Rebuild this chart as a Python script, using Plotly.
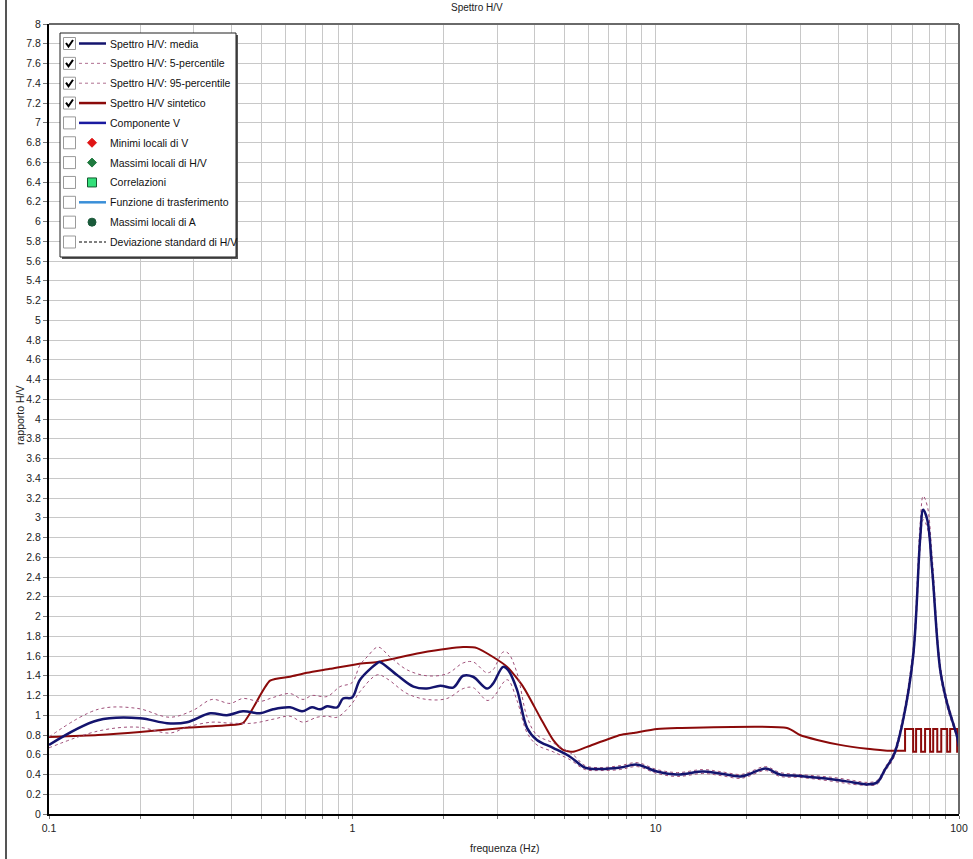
import plotly.graph_objects as go

# ---------------- data ----------------
# Spettro H/V: media
media_f = [0.1, 0.1451, 0.1995, 0.245, 0.285, 0.340, 0.386, 0.436, 0.496, 0.548,
           0.623, 0.683, 0.736, 0.783, 0.826, 0.891, 0.932, 0.998, 1.06, 1.21,
           1.23, 1.40, 1.59, 1.76, 1.95, 2.15, 2.32, 2.50, 2.78, 2.91,
           3.14, 3.26, 3.49, 3.77, 4.06, 4.59, 5.22, 5.85, 6.56, 7.64,
           8.69, 10.1, 11.8, 14.3, 16.3, 19.0, 20.2, 23.0, 25.7, 29.9,
           38.5, 44.8, 49.8, 53.7, 57.0, 61.0, 65.4, 70.6, 74.5, 76.2,
           78.6, 81.6, 86.7, 91.4, 98.6, 100.0]
media_v = [0.70, 0.95, 0.97, 0.92, 0.93, 1.02, 1.00, 1.04, 1.02, 1.06,
           1.08, 1.04, 1.08, 1.06, 1.09, 1.08, 1.17, 1.18, 1.36, 1.53,
           1.54, 1.41, 1.29, 1.27, 1.30, 1.28, 1.40, 1.39, 1.27, 1.32,
           1.49, 1.46, 1.26, 0.87, 0.75, 0.67, 0.58, 0.47, 0.455, 0.47,
           0.50, 0.43, 0.40, 0.43, 0.41, 0.38, 0.40, 0.46, 0.40, 0.385,
           0.35, 0.32, 0.30, 0.32, 0.45, 0.60, 0.95, 1.60, 2.80, 3.08,
           2.98, 2.47, 1.46, 1.12, 0.78, 0.68]

# Spettro H/V: 95-percentile
p95_f = [0.1, 0.1451, 0.195, 0.2506, 0.2985, 0.3445, 0.3953, 0.436, 0.496, 0.548,
         0.623, 0.6877, 0.736, 0.826, 0.911, 0.998, 1.06, 1.118, 1.215, 1.332,
         1.515, 1.76, 2.053, 2.32, 2.50, 2.78, 2.91, 3.14, 3.26, 3.49,
         3.77, 4.06, 4.59, 5.34, 5.85, 6.56, 7.64, 8.69, 10.1, 11.8,
         14.3, 16.3, 19.0, 20.2, 23.0, 25.7, 29.9, 38.5, 44.8, 49.8,
         53.7, 57.0, 61.0, 65.4, 70.6, 74.5, 76.2, 78.6, 81.6, 86.7,
         91.4, 98.6, 100.0]
p95_v = [0.78, 1.06, 1.07, 0.98, 1.05, 1.16, 1.12, 1.17, 1.14, 1.18,
         1.22, 1.16, 1.20, 1.19, 1.29, 1.33, 1.51, 1.59, 1.69, 1.59,
         1.46, 1.40, 1.42, 1.53, 1.54, 1.43, 1.46, 1.64, 1.63, 1.43,
         0.98, 0.80, 0.72, 0.60, 0.49, 0.47, 0.49, 0.52, 0.45, 0.42,
         0.45, 0.43, 0.40, 0.42, 0.48, 0.42, 0.40, 0.37, 0.34, 0.32,
         0.34, 0.47, 0.63, 1.00, 1.68, 2.95, 3.22, 3.12, 2.60, 1.52,
         1.16, 0.80, 0.70]

# Spettro H/V: 5-percentile
p5_f = [0.1, 0.1451, 0.195, 0.2506, 0.285, 0.3445, 0.3953, 0.4707, 0.548, 0.623,
        0.6877, 0.765, 0.826, 0.891, 0.998, 1.06, 1.21, 1.301, 1.515, 1.76,
        2.053, 2.32, 2.50, 2.78, 2.91, 3.24, 3.49, 3.77, 4.06, 4.59,
        5.22, 5.85, 6.56, 7.64, 8.69, 10.1, 11.8, 14.3, 16.3, 19.0,
        20.2, 23.0, 25.7, 29.9, 38.5, 44.8, 49.8, 53.7, 57.0, 61.0,
        65.4, 70.6, 74.5, 76.2, 78.6, 81.6, 86.7, 91.4, 98.6, 100.0]
p5_v = [0.67, 0.84, 0.88, 0.82, 0.88, 0.93, 0.92, 0.92, 0.96, 0.99,
        0.93, 0.98, 0.99, 0.98, 1.12, 1.24, 1.41, 1.37, 1.22, 1.16,
        1.17, 1.27, 1.28, 1.15, 1.18, 1.36, 1.15, 0.82, 0.70, 0.63,
        0.55, 0.45, 0.44, 0.45, 0.48, 0.41, 0.38, 0.41, 0.39, 0.36,
        0.38, 0.44, 0.38, 0.37, 0.33, 0.30, 0.29, 0.30, 0.43, 0.57,
        0.92, 1.55, 2.70, 2.98, 2.90, 2.40, 1.42, 1.08, 0.76, 0.66]

# Spettro H/V sintetico (smooth part followed by the stepped high-frequency part)
sint_f = [0.1, 0.1451, 0.1995, 0.2766, 0.386, 0.436, 0.5355, 0.623, 0.709, 0.844,
          1.044, 1.21, 1.672, 2.32, 2.577, 2.91, 3.24, 3.655, 4.158, 4.59,
          4.95, 5.34, 5.94, 7.64, 8.42, 10.1, 11.8, 27.1, 29.9, 34.1,
          40.5, 49.8, 57.9,
          66.4, 66.4, 70.6, 70.6, 72.2, 72.2, 75.0, 75.0, 77.3, 77.3,
          80.3, 80.3, 82.2, 82.2, 84.8, 84.8, 87.4, 87.4, 91.4, 91.4,
          93.5, 93.5, 98.6, 98.6, 100.0]
sint_v = [0.78, 0.80, 0.83, 0.87, 0.90, 0.92, 1.35, 1.39, 1.43, 1.47,
          1.52, 1.54, 1.63, 1.69, 1.68, 1.59, 1.49, 1.29, 0.98, 0.75,
          0.65, 0.63, 0.68, 0.80, 0.82, 0.86, 0.87, 0.87, 0.80, 0.75,
          0.70, 0.66, 0.64,
          0.64, 0.86, 0.86, 0.63, 0.63, 0.86, 0.86, 0.63, 0.63, 0.86,
          0.86, 0.63, 0.63, 0.86, 0.86, 0.63, 0.63, 0.86, 0.86, 0.63,
          0.63, 0.86, 0.86, 0.63, 0.63]
SINT_SMOOTH_END = 33  # index where the stepped section begins

# axis ticks
x_tickvals = [0.1, 0.2, 0.3, 0.4, 0.5, 0.6, 0.7, 0.8, 0.9,
              1, 2, 3, 4, 5, 6, 7, 8, 9,
              10, 20, 30, 40, 50, 60, 70, 80, 90, 100]
x_ticklabels = {0.1: "0.1", 1: "1", 10: "10", 100: "100"}
y_tickvals = [round(i * 0.2, 1) for i in range(41)]

# legend entries: (label, checked, kind, colour)
legend_items = [
    ("Spettro H/V: media", True, "line", "#14146e"),
    ("Spettro H/V: 5-percentile", True, "dot", "#b07090"),
    ("Spettro H/V: 95-percentile", True, "dot", "#b07090"),
    ("Spettro H/V sintetico", True, "line", "#8b0a0a"),
    ("Componente V", False, "line", "#1a1aa0"),
    ("Minimi locali di V", False, "diamond", "#e01414"),
    ("Massimi locali di H/V", False, "diamond", "#1f7a3f"),
    ("Correlazioni", False, "square", "#33e07a"),
    ("Funzione di trasferimento", False, "line", "#3a8fd8"),
    ("Massimi locali di A", False, "circle", "#1a5a3a"),
    ("Deviazione standard di H/V", False, "dash", "#000000"),
]

FONT = "Liberation Sans, Arial, sans-serif"

# ---------------- figure ----------------
W, H = 973, 859
L, R, T, B = 49, 959, 24, 814


def pxx(x):
    return (x - L) / (R - L)


def pxy(y):
    return (B - y) / (B - T)


fig = go.Figure()

SINT_COLOR = "#8b0a0a"
fig.add_trace(go.Scatter(x=sint_f[:SINT_SMOOTH_END], y=sint_v[:SINT_SMOOTH_END],
                         mode="lines", line_shape="spline",
                         line=dict(color=SINT_COLOR, width=2, smoothing=0.6)))
fig.add_trace(go.Scatter(x=sint_f[SINT_SMOOTH_END - 1:], y=sint_v[SINT_SMOOTH_END - 1:],
                         mode="lines", line=dict(color=SINT_COLOR, width=2)))
fig.add_trace(go.Scatter(x=p95_f, y=p95_v, mode="lines", line_shape="spline",
                         line=dict(color="#a0507a", width=1, dash="dot")))
fig.add_trace(go.Scatter(x=p5_f, y=p5_v, mode="lines", line_shape="spline",
                         line=dict(color="#a0507a", width=1, dash="dot")))
fig.add_trace(go.Scatter(x=media_f, y=media_v, mode="lines", line_shape="spline",
                         line=dict(color="#14146e", width=2.5)))

shapes = []
annotations = []

# plot frame: top and right border in grey
shapes.append(dict(type="line", xref="paper", yref="paper", x0=0, x1=1, y0=1, y1=1,
                   line=dict(color="#6a6a6a", width=2), layer="above"))
shapes.append(dict(type="line", xref="paper", yref="paper", x0=1, x1=1, y0=0, y1=1,
                   line=dict(color="#6a6a6a", width=2), layer="above"))
# outer window edge on the left
shapes.append(dict(type="line", xref="paper", yref="paper", x0=pxx(6), x1=pxx(6),
                   y0=pxy(0), y1=pxy(H), line=dict(color="#555555", width=2),
                   layer="above"))

# legend box with shadow
bx0, by0, bx1, by1 = 60, 33, 236, 257
shapes.append(dict(type="rect", xref="paper", yref="paper",
                   x0=pxx(bx0 + 2), x1=pxx(bx1 + 2), y0=pxy(by0 + 2), y1=pxy(by1 + 2),
                   fillcolor="#555555", line=dict(width=0), layer="above"))
shapes.append(dict(type="rect", xref="paper", yref="paper",
                   x0=pxx(bx0), x1=pxx(bx1), y0=pxy(by0), y1=pxy(by1),
                   fillcolor="white", line=dict(color="#202020", width=1), layer="above"))

row0, step = 43.5, 19.85
for i, (label, checked, kind, col) in enumerate(legend_items):
    yc = row0 + step * i
    # checkbox
    shapes.append(dict(type="rect", xref="paper", yref="paper",
                       x0=pxx(63.5), x1=pxx(75.5), y0=pxy(yc - 6), y1=pxy(yc + 6),
                       fillcolor="white", line=dict(color="#9a9a9a", width=1),
                       layer="above"))
    if checked:
        path = "M {},{} L {},{} L {},{}".format(
            pxx(66), pxy(yc - 0.5), pxx(68.5), pxy(yc + 3), pxx(73), pxy(yc - 3.5))
        shapes.append(dict(type="path", xref="paper", yref="paper", path=path,
                           line=dict(color="black", width=2), layer="above"))
    # sample
    if kind in ("line", "dot", "dash"):
        dash = {"line": "solid", "dot": "dot", "dash": "3px,2px"}[kind]
        width = 2.5 if kind == "line" else 1
        shapes.append(dict(type="line", xref="paper", yref="paper",
                           x0=pxx(79), x1=pxx(106), y0=pxy(yc), y1=pxy(yc),
                           line=dict(color=col, width=width, dash=dash), layer="above"))
    elif kind == "diamond":
        s = 4.5
        path = "M {},{} L {},{} L {},{} L {},{} Z".format(
            pxx(92), pxy(yc - s), pxx(92 + s), pxy(yc), pxx(92), pxy(yc + s),
            pxx(92 - s), pxy(yc))
        shapes.append(dict(type="path", xref="paper", yref="paper", path=path,
                           fillcolor=col, line=dict(color=col, width=1), layer="above"))
    elif kind == "square":
        s = 4.5
        shapes.append(dict(type="rect", xref="paper", yref="paper",
                           x0=pxx(92 - s), x1=pxx(92 + s), y0=pxy(yc - s), y1=pxy(yc + s),
                           fillcolor=col, line=dict(color="#145a30", width=1),
                           layer="above"))
    elif kind == "circle":
        s = 4
        shapes.append(dict(type="circle", xref="paper", yref="paper",
                           x0=pxx(92 - s), x1=pxx(92 + s), y0=pxy(yc - s), y1=pxy(yc + s),
                           fillcolor=col, line=dict(color=col, width=1), layer="above"))
    annotations.append(dict(xref="paper", yref="paper", x=pxx(107.5), y=pxy(yc),
                            xanchor="left", yanchor="middle", showarrow=False,
                            text=label, font=dict(family=FONT, size=10.5, color="#111111")))

# titles
annotations.append(dict(xref="paper", yref="paper", x=pxx(477), y=pxy(7),
                        xanchor="center", yanchor="middle", showarrow=False,
                        text="Spettro H/V", font=dict(family=FONT, size=10, color="#222222")))
annotations.append(dict(xref="paper", yref="paper", x=pxx(504), y=pxy(848),
                        xanchor="center", yanchor="middle", showarrow=False,
                        text="frequenza (Hz)", font=dict(family=FONT, size=10.5, color="#222222")))
annotations.append(dict(xref="paper", yref="paper", x=pxx(20), y=pxy(415),
                        xanchor="center", yanchor="middle", showarrow=False, textangle=-90,
                        text="rapporto H/V", font=dict(family=FONT, size=10.5, color="#222222")))

fig.update_layout(
    width=W, height=H,
    margin=dict(l=L, r=W - R, t=T, b=H - B, pad=0, autoexpand=False),
    paper_bgcolor="white", plot_bgcolor="white",
    showlegend=False,
    shapes=shapes, annotations=annotations,
    font=dict(family=FONT, size=10.5, color="#222222"),
)

fig.update_xaxes(
    type="log", range=[-1, 2], automargin=False,
    tickvals=x_tickvals,
    ticktext=[x_ticklabels.get(v, "") for v in x_tickvals],
    showgrid=True, gridcolor="#c8c8c8", gridwidth=1,
    showline=True, linecolor="black", linewidth=2,
    ticks="outside", ticklen=3, tickcolor="#777777", tickwidth=1,
    tickfont=dict(family=FONT, size=10.5, color="#222222"),
    zeroline=False,
)
fig.update_yaxes(
    range=[0, 8], automargin=False,
    tickvals=y_tickvals,
    ticktext=[("%g" % v) for v in y_tickvals],
    showgrid=True, gridcolor="#c8c8c8", gridwidth=1,
    showline=True, linecolor="black", linewidth=2,
    ticks="outside", ticklen=4, tickcolor="#777777", tickwidth=1,
    tickfont=dict(family=FONT, size=10.5, color="#222222"),
    zeroline=False,
)

fig.write_html("out.html")
